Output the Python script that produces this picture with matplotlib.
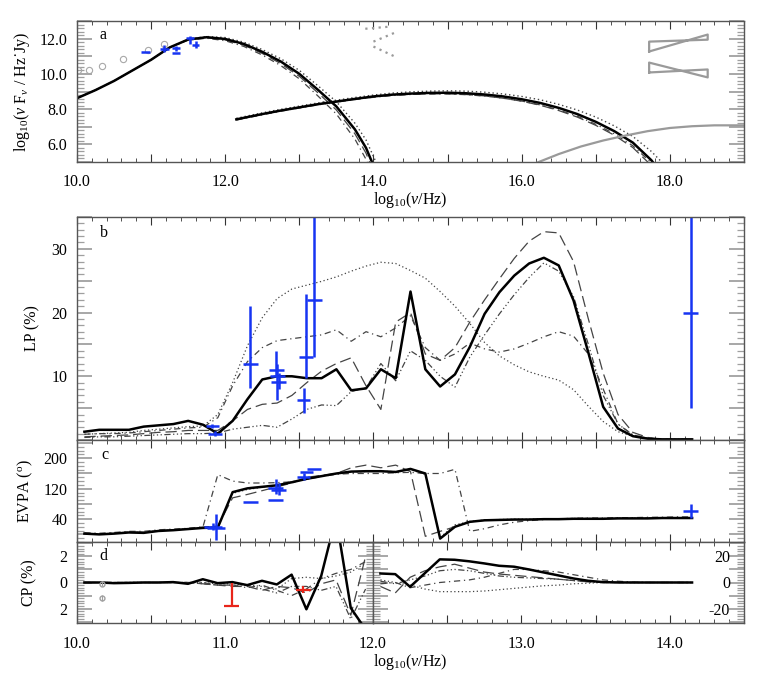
import numpy as np
import matplotlib
matplotlib.use('Agg')
import matplotlib.pyplot as plt
from matplotlib.ticker import MultipleLocator, FuncFormatter

plt.rcParams['font.family'] = ['Liberation Serif', 'DejaVu Serif']
plt.rcParams['mathtext.fontset'] = 'custom'
plt.rcParams['mathtext.rm'] = 'Liberation Serif'
plt.rcParams['mathtext.it'] = 'Liberation Serif:italic'
plt.rcParams['mathtext.bf'] = 'Liberation Serif:bold'
FS = 11.5

# ---------------- panel a : SED ----------------
sync_x = [10.0, 10.25, 10.5, 10.75, 11.0, 11.25, 11.5, 11.75, 12.0, 12.25, 12.5, 12.75, 13.0, 13.25, 13.5, 13.75, 13.9, 14.05, 14.2]
sync_solid = [8.62, 9.08, 9.6, 10.2, 10.8, 11.5, 11.95, 12.08, 11.98, 11.7, 11.25, 10.7, 10.0, 9.1, 8.15, 6.85, 5.8, 4.3, 2.5]
sync_dot = [8.62, 9.08, 9.6, 10.2, 10.8, 11.5, 11.97, 12.12, 12.06, 11.8, 11.38, 10.86, 10.2, 9.33, 8.42, 7.2, 6.25, 4.85, 3.2]
sync_dash = [8.62, 9.08, 9.6, 10.2, 10.8, 11.5, 11.94, 12.05, 11.93, 11.63, 11.16, 10.58, 9.86, 8.93, 7.95, 6.6, 5.5, 3.9, 2.0]
sync_dashdot = [8.62, 9.08, 9.6, 10.2, 10.8, 11.49, 11.92, 12.02, 11.88, 11.56, 11.07, 10.47, 9.72, 8.75, 7.72, 6.3, 5.15, 3.5, 1.5]

ic_x = [12.15, 12.5, 12.75, 13.0, 13.25, 13.5, 13.75, 14.0, 14.25, 14.5, 14.75, 15.0, 15.25, 15.5, 15.75, 16.0, 16.25, 16.5, 16.75, 17.0, 17.25, 17.5, 17.75, 17.9, 18.05]
ic_solid = [7.42, 7.72, 7.92, 8.1, 8.28, 8.43, 8.58, 8.72, 8.82, 8.88, 8.92, 8.93, 8.9, 8.83, 8.72, 8.56, 8.35, 8.07, 7.72, 7.28, 6.75, 6.1, 5.1, 4.3, 3.3]
ic_dot = [7.48, 7.79, 7.99, 8.17, 8.35, 8.51, 8.66, 8.8, 8.91, 8.98, 9.02, 9.04, 9.02, 8.96, 8.86, 8.72, 8.53, 8.27, 7.95, 7.55, 7.05, 6.45, 5.6, 4.95, 4.1]
ic_dash = [7.40, 7.70, 7.90, 8.08, 8.26, 8.41, 8.55, 8.69, 8.79, 8.84, 8.87, 8.87, 8.83, 8.75, 8.62, 8.45, 8.22, 7.92, 7.55, 7.08, 6.52, 5.82, 4.8, 4.0, 3.0]
ic_dashdot = [7.38, 7.68, 7.88, 8.06, 8.24, 8.40, 8.54, 8.67, 8.77, 8.83, 8.86, 8.86, 8.82, 8.74, 8.62, 8.46, 8.24, 7.95, 7.6, 7.14, 6.6, 5.92, 4.95, 4.15, 3.1]

xray_x = [16.2, 16.5, 16.8, 17.1, 17.4, 17.7, 18.0, 18.3, 18.6, 19.0]
xray_y = [4.95, 5.45, 5.88, 6.22, 6.5, 6.75, 6.93, 7.03, 7.08, 7.08]

sed_circ_x = [10.02, 10.16, 10.34, 10.62, 10.96, 11.17]
sed_circ_y = [10.2, 10.21, 10.47, 10.85, 11.34, 11.72]

sed_obs_x = [10.93, 11.18, 11.34, 11.34, 11.52, 11.60]
sed_obs_y = [11.25, 11.42, 11.45, 11.20, 12.04, 11.66]
sed_obs_lo = [0.0, 0.2, 0.15, 0.0, 0.35, 0.2]
sed_obs_hi = [0.0, 0.2, 0.15, 0.0, 0.1, 0.2]
sed_obs_xw = [0.06, 0.055, 0.055, 0.055, 0.055, 0.05]

# gray dotted index segments (x0, y0, x1, y1)
idx_x0 = [13.89, 14.0, 14.0]
idx_y0 = [12.56, 11.83, 11.55]
idx_x1 = [14.22, 14.29, 14.29]
idx_y1 = [12.68, 12.34, 10.98]

# bowties
bow_x = [17.72, 18.51]
bow1_left = [11.27, 11.83]
bow1_right = [11.94, 12.23]
bow2_left = [10.08, 10.64]
bow2_right = [9.80, 10.25]

# ---------------- panels b-d : polarisation ----------------
nu = [10.05, 10.15, 10.25, 10.35, 10.45, 10.55, 10.65, 10.75, 10.85, 10.95,
      11.05, 11.15, 11.25, 11.35, 11.45, 11.55, 11.65, 11.75, 11.85, 11.95,
      12.05, 12.15, 12.25, 12.35, 12.45, 12.55, 12.65, 12.75, 12.85, 12.95,
      13.05, 13.15, 13.25, 13.35, 13.45, 13.55, 13.65, 13.75, 13.85, 13.95,
      14.05, 14.15]

lp_solid = [1.3, 1.6, 1.6, 1.6, 2.1, 2.3, 2.5, 3.0, 2.4, 1.0,
            3.0, 6.4, 9.5, 10.0, 10.0, 9.7, 9.7, 11.1, 7.8, 8.1,
            11.1, 9.7, 23.3, 11.1, 8.4, 10.3, 14.6, 19.8, 23.2, 25.8,
            27.7, 28.6, 27.4, 21.9, 13.7, 5.2, 1.8, 0.6, 0.2, 0.1, 0.1, 0.1]
lp_dot = [0.9, 1.0, 1.1, 1.2, 1.5, 1.7, 1.9, 2.1, 2.2, 4.0,
          9.0, 14.8, 19.2, 22.2, 23.7, 24.3, 24.9, 25.6, 26.5, 27.3,
          27.9, 27.7, 26.6, 25.4, 23.3, 21.0, 18.3, 15.3, 13.2, 11.8,
          10.7, 10.0, 9.4, 7.9, 5.3, 2.9, 1.3, 0.6, 0.3, 0.1, 0.1, 0.1]
lp_dashdot = [0.9, 1.0, 1.0, 1.1, 1.3, 1.5, 1.7, 1.9, 2.0, 3.5,
              8.5, 12.3, 14.5, 15.6, 15.9, 16.2, 16.5, 17.3, 15.5, 17.0,
              16.2, 17.6, 19.5, 14.5, 12.5, 13.5, 15.2, 14.3, 13.8, 14.3,
              15.2, 16.2, 17.0, 16.3, 13.5, 8.0, 2.5, 0.8, 0.3, 0.1, 0.1, 0.1]
lp_dash = [0.5, 0.6, 0.7, 0.8, 1.0, 1.2, 1.3, 1.5, 1.5, 1.5,
           3.0, 4.8, 5.6, 5.8, 7.0, 9.0, 10.8, 12.0, 12.9, 8.5,
           4.8, 18.5, 20.0, 13.5, 12.5, 14.5, 18.5, 22.0, 25.3, 28.5,
           31.2, 32.7, 32.5, 28.0, 19.0, 10.5, 4.0, 1.2, 0.4, 0.1, 0.1, 0.1]
lp_ddd = [0.4, 0.5, 0.5, 0.6, 0.7, 0.8, 0.9, 1.0, 1.0, 1.1,
          1.7, 2.0, 2.3, 2.0, 3.3, 4.8, 5.5, 5.4, 7.6, 8.2,
          12.0, 9.3, 14.0, 12.5, 10.0, 8.3, 13.0, 16.5, 19.8, 22.8,
          25.5, 27.8, 26.5, 22.5, 15.0, 7.0, 2.5, 0.8, 0.3, 0.1, 0.1, 0.1]

lp_obs_x = [10.914, 10.93, 11.17, 11.345, 11.35, 11.36, 11.53, 11.545, 11.60, 14.14]
lp_obs_y = [2.2, 1.0, 12.0, 11.0, 10.0, 9.1, 6.2, 13.0, 21.9, 20.0]
lp_obs_lo = [1.9, 0.6, 8.1, 10.0, 6.2, 8.0, 4.25, 9.8, 13.0, 5.0]
lp_obs_hi = [2.5, 1.4, 21.0, 14.0, 12.0, 10.5, 8.1, 22.9, 40.0, 40.0]
lp_obs_xw = [0.045, 0.045, 0.05, 0.05, 0.05, 0.05, 0.045, 0.05, 0.05, 0.05]

evpa_solid = [2, 0, 2, 5, 4, 9, 11, 14, 17, 18,
              111, 121, 125, 129, 137, 146, 153, 160, 165, 166,
              166, 164, 172, 160, -11, 20, 33, 37, 38, 39,
              39, 40, 40, 41, 41, 41, 42, 42, 42, 43, 43, 43]
evpa_dashdot = [4, 3, 5, 8, 8, 12, 14, 16, 20, 157,
                140, 135, 135, 136, 138, 145, 152, 158, 160, 160,
                160, 162, 163, 160, 160, 171, 8, 15, 25, 32,
                36, 39, 41, 42, 43, 43, 44, 44, 45, 45, 46, 46]
evpa_dash = [3, 1, 3, 6, 6, 10, 12, 15, 19, 22,
             96, 105, 115, 125, 135, 150, 155, 160, 175, 182,
             175, 182, 165, -5, 8, 20, 33, 37, 38, 39,
             39, 40, 40, 41, 41, 41, 42, 42, 42, 43, 43, 43]
evpa_dot = [3, 1, 3, 6, 5, 10, 12, 15, 18, 20,
            108, 118, 124, 130, 138, 147, 154, 160, 164, 165,
            166, 165, 170, 158, -8, 25, 34, 38, 39, 40,
            40, 41, 41, 42, 42, 42, 43, 43, 43, 44, 44, 44]

evpa_obs_x = [10.92, 10.94, 11.17, 11.34, 11.36, 11.34, 11.53, 11.55, 11.60, 14.14]
evpa_obs_y = [20, 17, 85, 122, 116, 90, 151, 164, 173, 61]
evpa_obs_lo = [12, -15, 85, 105, 103, 90, 142, 164, 173, 42]
evpa_obs_hi = [30, 53, 85, 145, 135, 90, 160, 164, 173, 79]
evpa_obs_xw = [0.06, 0.06, 0.05, 0.05, 0.05, 0.05, 0.045, 0.045, 0.045, 0.05]

cp_solid = [0.0, 0.0, -0.05, -0.03, 0.0, 0.0, 0.03, -0.1, 0.25, -0.05,
            0.03, -0.2, 0.13, -0.15, 0.6, -2.05, 0.5, 5.0, -1.95, -3.6,
            6.9, 6.4, -3.3, 7.2, 17.7, 17.4, 16.2, 14.6, 12.8, 12.1,
            10.0, 7.7, 5.4, 3.1, 1.3, 0.3, 0.05, 0.0, 0.0, 0.0, 0.0, 0.0]
cp_dot = [0, 0, 0, 0, 0, 0, 0, 0, 0, -0.1,
          -0.1, -0.2, -0.3, -0.5, 0.3, 0.4, 0.3, 0.5, 0.8, 1.5,
          2.0, 0.0, -2.0, -5.0, -7.0, -7.0, -7.0, -6.5, -5.5, -4.5,
          -3.5, -2.5, -2.0, -1.0, -0.5, 0, 0, 0, 0, 0, 0, 0]
cp_dashdot = [0, 0, 0, 0, 0, 0, 0, 0, 0, -0.2,
              -0.2, -0.4, -0.2, -0.6, -1.0, -0.5, 0.3, 0.7, 1.0, 1.6,
              -1.0, 0.0, -4.0, -2.0, 0.0, 1.0, 2.0, 4.0, 7.0, 10.0,
              10.0, 9.0, 8.0, 6.0, 4.0, 2.0, 1.0, 0.3, 0, 0, 0, 0]
cp_dash = [0, 0, 0, 0, 0, 0, 0, 0, -0.1, -0.2,
           -0.3, -0.3, -0.6, -0.3, -0.4, -0.8, -0.1, 0.2, -2.5, 2.0,
           -3.0, -8.0, 4.0, 9.0, 12.0, 14.0, 11.0, 8.0, 6.5, 5.5,
           4.5, 3.5, 2.5, 1.5, 0.5, 0, 0, 0, 0, 0, 0, 0]
cp_ddd = [0, 0, 0, 0, 0, 0, 0, 0, -0.1, -0.2,
          -0.2, -0.2, -0.5, -0.8, -0.3, -0.3, -0.6, -0.3, -2.8, -0.5,
          1.0, -1.0, 2.0, 5.0, 9.0, 10.0, 9.0, 7.0, 5.0, 4.0,
          3.5, 3.0, 2.5, 1.5, 0.5, 0, 0, 0, 0, 0, 0, 0]

cp_red_x = [11.045, 11.53]
cp_red_y = [-1.8, -0.54]
cp_red_lo = [0.0, 0.25]
cp_red_hi = [1.8, 0.25]
cp_red_xw = [0.05, 0.05]

cp_circ_x = [10.17, 10.17]
cp_circ_y = [-0.08, -1.2]

# ---------------- styles ----------------
BLUE = '#1634f2'
RED = '#e8251a'
THIN = '#444444'
GRAY = '#9a9a9a'
LS_DOT = (0, (1, 2))
LS_DASH = (0, (9, 4))
LS_DASHDOT = (0, (5, 3, 1, 3))
LS_DDD = (0, (5, 2, 1, 2, 1, 2, 1, 2))


def style(ax, xmaj, xmin, ymaj, ymin):
    ax.xaxis.set_major_locator(MultipleLocator(xmaj))
    ax.xaxis.set_minor_locator(MultipleLocator(xmin))
    ax.yaxis.set_major_locator(MultipleLocator(ymaj))
    ax.yaxis.set_minor_locator(MultipleLocator(ymin))
    ax.tick_params(which='both', direction='in', top=True, right=True, labelsize=FS)
    ax.tick_params(axis='x', which='major', length=6, width=0.8, color='#333333', pad=9)
    ax.tick_params(axis='x', which='minor', length=3, width=0.6, color='#333333')
    ax.tick_params(axis='y', which='major', length=11, width=1.1, color='#8f8f8f', pad=7)
    ax.tick_params(axis='y', which='minor', length=5, width=0.9, color='#9f9f9f')
    for s in ax.spines.values():
        s.set_color('#555555')
        s.set_linewidth(1.0)


def fmt_even(v, p):
    k = v / 2.0
    if abs(k - round(k)) < 1e-6:
        return '{:.1f}'.format(v)
    return ''


fig = plt.figure(figsize=(7.63, 6.78), dpi=100)
W, H = 763.0, 678.0
L, R = 77.0, 744.0

# ---- panel a ----
axa = fig.add_axes([L / W, 1 - 162 / H, (R - L) / W, (162 - 21) / H])
axa.set_xlim(10, 19)
axa.set_ylim(5, 13)
style(axa, 1.0, 0.2, 1.0, 0.2)
axa.xaxis.set_major_formatter(FuncFormatter(fmt_even))
axa.yaxis.set_major_formatter(FuncFormatter(fmt_even))
axa.plot(sync_x, sync_dot, color=THIN, lw=1.0, ls=LS_DOT)
axa.plot(sync_x, sync_dash, color=THIN, lw=0.9, ls=LS_DASH)
axa.plot(sync_x, sync_dashdot, color=THIN, lw=0.9, ls=LS_DASHDOT)
axa.plot(sync_x, sync_solid, color='black', lw=1.8)
axa.plot(ic_x, ic_dot, color=THIN, lw=1.0, ls=LS_DOT)
axa.plot(ic_x, ic_dash, color=THIN, lw=0.9, ls=LS_DASH)
axa.plot(ic_x, ic_dashdot, color=THIN, lw=0.9, ls=LS_DASHDOT)
axa.plot(ic_x, ic_solid, color='black', lw=1.8)
axa.plot(xray_x, xray_y, color=GRAY, lw=1.6)
axa.plot(sed_circ_x, sed_circ_y, ls='none', marker='o', ms=4.5, mfc='none', mec='#a8a8a8', mew=0.8)
for i in range(len(idx_x0)):
    axa.plot([idx_x0[i], idx_x1[i]], [idx_y0[i], idx_y1[i]], color=GRAY, lw=1.6, ls=(0, (1, 2)))
for lft, rgt in ((bow1_left, bow1_right), (bow2_left, bow2_right)):
    px = [bow_x[0], bow_x[1], bow_x[1], bow_x[0], bow_x[0]]
    py = [lft[0], rgt[1], rgt[0], lft[1], lft[0]]
    axa.plot(px, py, color=GRAY, lw=1.6)
axa.errorbar(sed_obs_x, sed_obs_y, yerr=[sed_obs_lo, sed_obs_hi], xerr=sed_obs_xw,
             fmt='none', ecolor=BLUE, elinewidth=1.8, capsize=0)
axa.text(0.034, 0.9, 'a', transform=axa.transAxes, fontsize=FS, va='center', ha='left')
axa.set_ylabel('log$_{10}$($\\nu$ F$_\\nu$ / Hz\u02d9Jy)', fontsize=FS)
axa.yaxis.set_label_coords(-0.067, 0.5)
axa.set_xlabel(r'log$_{10}$($\nu$/Hz)', fontsize=FS, labelpad=0)

# ---- panel b ----
nu_a = np.array(nu)
axb = fig.add_axes([L / W, 1 - 440 / H, (R - L) / W, (440 - 217) / H])
axb.set_xlim(10, 14.5)
axb.set_ylim(0, 35)
style(axb, 0.5, 0.1, 5, 1)
axb.xaxis.set_major_formatter(FuncFormatter(lambda v, p: ''))
axb.yaxis.set_major_formatter(FuncFormatter(lambda v, p: '{:.0f}'.format(v) if v in (10, 20, 30) else ''))
axb.plot(nu, lp_dot, color=THIN, lw=0.9, ls=LS_DOT)
axb.plot(nu, lp_dashdot, color=THIN, lw=0.9, ls=LS_DASHDOT)
axb.plot(nu, lp_dash, color=THIN, lw=0.9, ls=LS_DASH)
axb.plot(nu, lp_ddd, color=THIN, lw=0.9, ls=LS_DDD)
axb.plot(nu, lp_solid, color='black', lw=1.8)
ylo = np.array(lp_obs_y) - np.array(lp_obs_lo)
yhi = np.array(lp_obs_hi) - np.array(lp_obs_y)
axb.errorbar(lp_obs_x, lp_obs_y, yerr=[ylo, yhi], xerr=lp_obs_xw,
             fmt='none', ecolor=BLUE, elinewidth=1.8, capsize=0)
axb.text(0.034, 0.93, 'b', transform=axb.transAxes, fontsize=FS, va='center', ha='left')
axb.set_ylabel('LP (%)', fontsize=FS)
axb.yaxis.set_label_coords(-0.055, 0.5)

# ---- panel c ----
axc = fig.add_axes([L / W, 1 - 542 / H, (R - L) / W, (542 - 440) / H])
axc.set_xlim(10, 14.5)
axc.set_ylim(-20, 248)
style(axc, 0.5, 0.1, 40, 10)
axc.xaxis.set_major_formatter(FuncFormatter(lambda v, p: ''))
axc.yaxis.set_major_formatter(FuncFormatter(lambda v, p: '{:.0f}'.format(v) if v in (40, 120, 200) else ''))
axc.plot(nu, evpa_dot, color=THIN, lw=0.9, ls=LS_DOT)
axc.plot(nu, evpa_dashdot, color=THIN, lw=0.9, ls=LS_DASHDOT)
axc.plot(nu, evpa_dash, color=THIN, lw=0.9, ls=LS_DASH)
axc.plot(nu, evpa_solid, color='black', lw=1.8)
ylo = np.array(evpa_obs_y) - np.array(evpa_obs_lo)
yhi = np.array(evpa_obs_hi) - np.array(evpa_obs_y)
axc.errorbar(evpa_obs_x, evpa_obs_y, yerr=[ylo, yhi], xerr=evpa_obs_xw,
             fmt='none', ecolor=BLUE, elinewidth=1.8, capsize=0)
axc.text(0.037, 0.85, 'c', transform=axc.transAxes, fontsize=FS, va='center', ha='left')
axc.set_ylabel(r'EVPA ($^{\rm o}$)', fontsize=FS)
axc.yaxis.set_label_coords(-0.063, 0.5)

# ---- panel d (split) ----
XS = 373.0
axd1 = fig.add_axes([L / W, 1 - 623 / H, (XS - L) / W, (623 - 542) / H])
axd2 = fig.add_axes([XS / W, 1 - 623 / H, (R - XS) / W, (623 - 542) / H])
axd1.set_xlim(10, 12)
axd1.set_ylim(-3.1, 3.1)
axd2.set_xlim(12, 14.5)
axd2.set_ylim(-31, 31)
style(axd1, 0.5, 0.1, 1, 0.2)
style(axd2, 0.5, 0.1, 10, 2)
axd1.xaxis.set_major_formatter(FuncFormatter(lambda v, p: '{:.1f}'.format(v) if v in (10.0, 11.0) else ''))
axd2.xaxis.set_major_formatter(FuncFormatter(lambda v, p: '{:.1f}'.format(v) if v in (12.0, 13.0, 14.0) else ''))
axd1.yaxis.set_major_formatter(FuncFormatter(lambda v, p: '{:.0f}'.format(abs(v)) if round(v) in (-2, 0, 2) and abs(v - round(v)) < 1e-6 else ''))
axd2.yaxis.set_major_formatter(FuncFormatter(lambda v, p: '{:.0f}'.format(v) if round(v) in (-20, 0, 20) and abs(v - round(v)) < 1e-6 else ''))
axd2.tick_params(axis='y', which='major', labelleft=False, labelright=True, pad=-10)
for lbl in axd2.get_yticklabels():
    lbl.set_horizontalalignment('right')

mask_l = nu_a < 12
mask_r = nu_a > 12
for arr, ls, lw, col in ((cp_dot, LS_DOT, 0.9, THIN), (cp_dashdot, LS_DASHDOT, 0.9, THIN),
                         (cp_dash, LS_DASH, 0.9, THIN), (cp_ddd, LS_DDD, 0.9, THIN),
                         (cp_solid, '-', 1.8, 'black')):
    a = np.array(arr, dtype=float)
    axd1.plot(nu_a[mask_l], a[mask_l], color=col, lw=lw, ls=ls)
    axd2.plot(nu_a[mask_r], a[mask_r], color=col, lw=lw, ls=ls)
axd1.errorbar(cp_red_x, cp_red_y, yerr=[cp_red_lo, cp_red_hi], xerr=cp_red_xw,
              fmt='none', ecolor=RED, elinewidth=1.6, capsize=0)
axd1.errorbar(cp_circ_x, cp_circ_y, yerr=0.22, fmt='o', ms=3.5, mfc='none', mec='#a0a0a0',
              ecolor='#a0a0a0', elinewidth=0.8, capsize=0)
axd1.text(0.075, 0.83, 'd', transform=axd1.transAxes, fontsize=FS, va='center', ha='left')
axd1.set_ylabel('CP (%)', fontsize=FS)
axd1.yaxis.set_label_coords(-0.135, 0.5)
fig.text(410 / W, 1 - 662 / H, r'log$_{10}$($\nu$/Hz)', fontsize=FS, ha='center', va='center')

fig.savefig('out.png', dpi=100)
